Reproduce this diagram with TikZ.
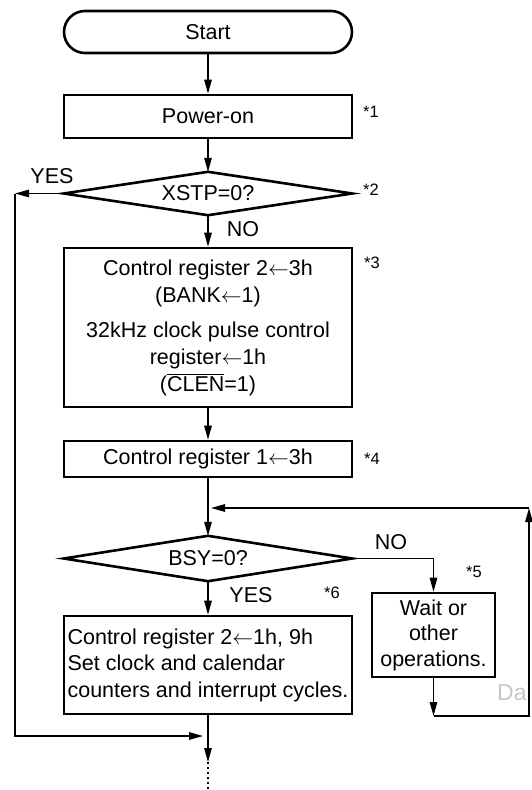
\documentclass[tikz,border=0pt]{standalone}
\usepackage{fontspec}
\setmainfont{Liberation Sans}
\usetikzlibrary{shapes.geometric,arrows.meta}
\tikzset{
  base/.style={draw, line width=2.6pt, inner sep=0pt, align=center,
    font=\fontsize{21.5}{27}\selectfont},
  box/.style={base, rectangle, minimum width=288pt},
  diabox/.style={rectangle, inner sep=0pt, minimum width=288pt, align=center,
    font=\fontsize{21.5}{27}\selectfont},
  diaedge/.style={line width=2.6pt, line join=miter},
  conn/.style={line width=1.3pt, -{Triangle[length=14pt,width=7.5pt]}},
  plain/.style={line width=1.3pt},
  lbl/.style={inner sep=0pt, font=\fontsize{21.5}{26}\selectfont},
  starlbl/.style={inner sep=0pt, font=\fontsize{16.5}{18}\selectfont}
}
\begin{document}
\begin{tikzpicture}[x=1pt,y=-1pt]
\useasboundingbox (0,0) rectangle (532,790);
% watermark
\node[anchor=base west, inner sep=0pt, text=black!22,
  font=\fontsize{23}{26}\selectfont] (wm) at (497,700) {Da};
% nodes
\node[box, rounded corners=21pt, minimum height=42pt] (start) at (208,32) {Start};
\node[box, minimum height=43pt] (pow) at (208,116.5) {Power-on};
\node[diabox, minimum height=43pt] (xstp) at (208,193.5) {XSTP=0?};
\draw[diaedge] (xstp.north) -- (xstp.east) -- (xstp.south) -- (xstp.west) -- cycle;
\node[box, minimum height=159pt] (b3) at (208,327.5)
  {Control register 2$\leftarrow$3h\\(BANK$\leftarrow$1)\\[8pt]
   32kHz clock pulse control\\register$\leftarrow$1h\\($\overline{\mbox{CLEN}}$=1)};
\node[box, minimum height=36pt] (b4) at (208,459) {Control register 1$\leftarrow$3h};
\node[diabox, minimum height=45pt] (bsy) at (208,558.5) {BSY=0?};
\draw[diaedge] (bsy.north) -- (bsy.east) -- (bsy.south) -- (bsy.west) -- cycle;
\node[box, minimum height=98pt, align=left, font=\fontsize{21.5}{26.5}\selectfont] (b6) at (208,665)
  {Control register 2$\leftarrow$1h, 9h\\Set clock and calendar\\counters and interrupt cycles.};
\node[box, minimum width=123pt, minimum height=84pt, font=\fontsize{21.5}{25.5}\selectfont] (wait) at (433.5,635)
  {Wait or\\other\\operations.};
% coordinates
\coordinate (yl) at (15,193.5);
\coordinate (yb) at (15,736);
\coordinate (mj) at (208,736);
\coordinate (mend) at (208,762);
\coordinate (mbot) at (208,790);
\coordinate (nr) at (433.5,558.5);
\coordinate (wb) at (433.5,716);
\coordinate (rb) at (529,716);
\coordinate (rt) at (529,508);
\coordinate (lj) at (208,508);
% main flow
\draw[conn] (start) -- (pow);
\draw[conn] (pow) -- (xstp.north);
\draw[conn] (xstp.south) -- (b3);
\draw[conn] (b3) -- (b4);
\draw[conn] (b4) -- (bsy.north);
\draw[conn] (bsy.south) -- (b6);
\draw[conn] (b6) -- (mend);
\draw[plain, dash pattern=on 1.6pt off 3.4pt] (mend) -- (mbot);
% YES branch of XSTP
\draw[conn] (xstp.west) -- (yl);
\draw[conn, shorten >=5pt] (yl) -- (yb) -- (mj);
% NO branch of BSY
\draw[conn] (bsy.east) -- (nr) -- (wait.north);
\draw[conn] (wait.south) -- (wb);
\draw[conn] (wb) -- (rb) -- (rt);
\draw[conn, shorten >=3pt] (rt) -- (lj);
% labels
\node[lbl] (yes1) at (52,176) {YES};
\node[lbl] (no1) at (243,229.5) {NO};
\node[lbl] (no2) at (391,542) {NO};
\node[lbl] (yes2) at (251,595) {YES};
\node[starlbl] (m1) at (371,112) {*1};
\node[starlbl] (m2) at (371,190) {*2};
\node[starlbl] (m3) at (372,263) {*3};
\node[starlbl] (m4) at (372,459) {*4};
\node[starlbl] (m5) at (474,572) {*5};
\node[starlbl] (m6) at (332,593) {*6};
\end{tikzpicture}
\end{document}
